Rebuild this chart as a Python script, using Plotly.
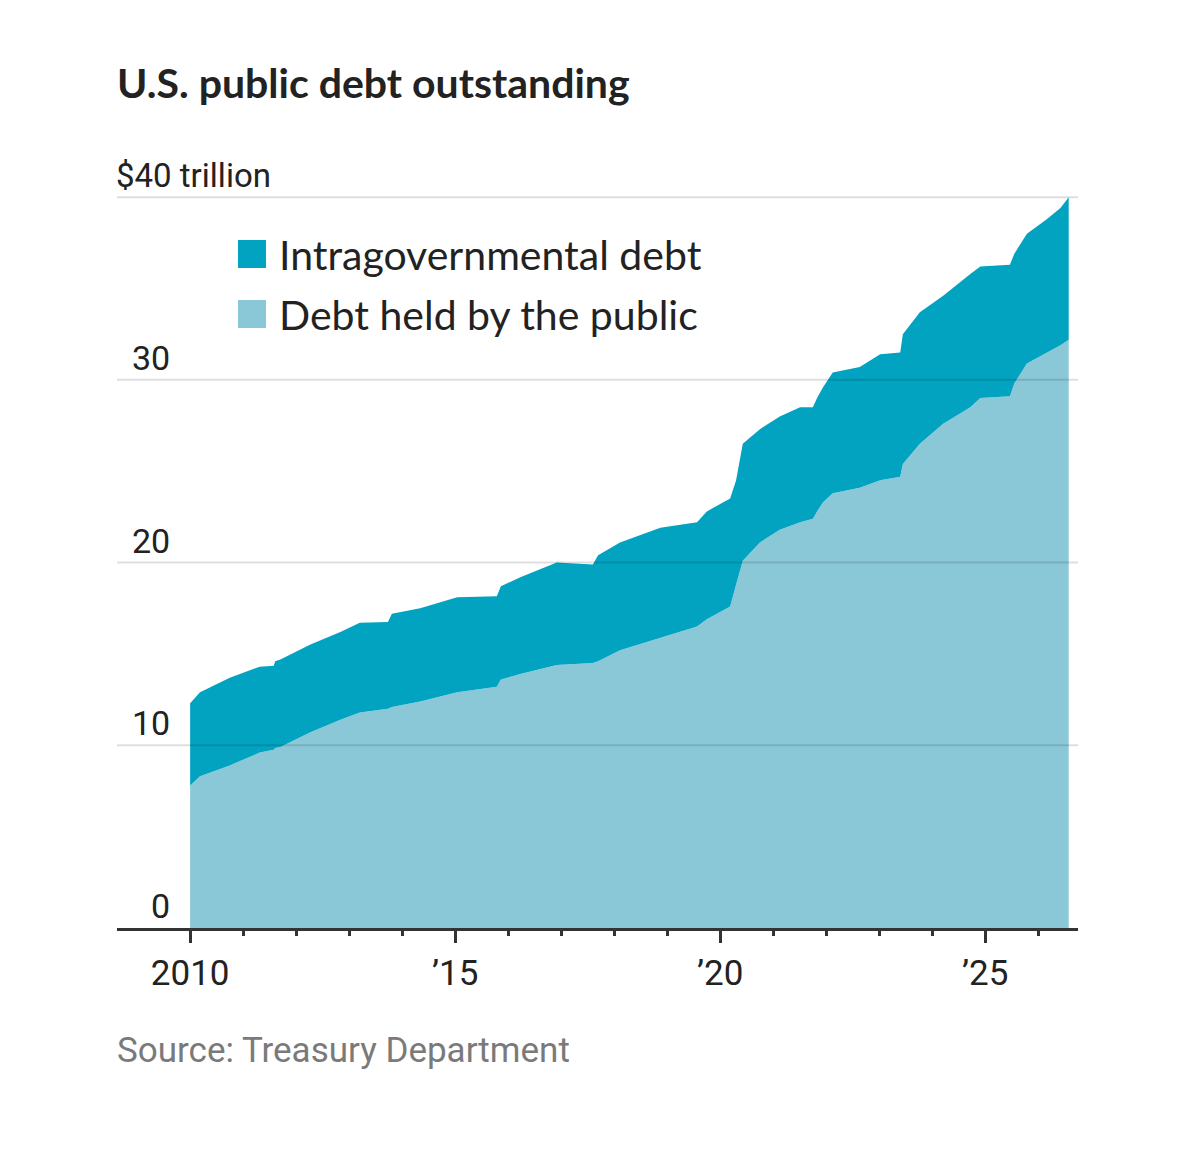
import plotly.graph_objects as go

# data, trillions of dollars
dates = ["2010-01-01", "2010-03-10", "2010-10-01", "2011-04-25", "2011-07-31",
         "2011-08-10", "2011-09-15", "2012-04-05", "2012-11-01", "2013-03-15",
         "2013-09-25", "2013-10-22", "2014-05-05", "2015-01-15", "2015-10-15",
         "2015-11-12", "2016-03-25", "2016-12-01", "2017-08-07", "2017-09-12",
         "2018-02-10", "2018-11-15", "2019-07-26", "2019-10-01", "2020-03-10",
         "2020-04-20", "2020-06-05", "2020-10-01", "2021-02-15", "2021-07-05",
         "2021-10-01", "2021-10-30", "2021-12-10", "2022-02-15", "2022-08-20",
         "2023-01-08", "2023-05-26", "2023-06-13", "2023-10-08", "2024-03-17",
         "2024-09-20", "2024-11-28", "2025-06-20", "2025-07-20", "2025-10-15",
         "2026-03-03", "2026-06-03", "2026-07-30"]

public = [7.8, 8.3, 8.9, 9.6, 9.75, 9.85, 9.9, 10.7, 11.4, 11.8,
          12.0, 12.1, 12.4, 12.9, 13.2, 13.6, 13.9, 14.4, 14.5, 14.6,
          15.2, 15.9, 16.5, 16.9, 17.6, 18.8, 20.1, 21.1, 21.8, 22.2,
          22.4, 22.8, 23.3, 23.8, 24.1, 24.5, 24.7, 25.4, 26.5, 27.6,
          28.5, 29.0, 29.1, 29.8, 30.9, 31.5, 31.9, 32.2]

intragov = [4.5, 4.6, 4.8, 4.7, 4.6, 4.75, 4.8, 4.8, 4.8, 4.9,
            4.75, 5.1, 5.1, 5.2, 4.95, 5.1, 5.3, 5.6, 5.4, 5.8,
            5.9, 6.0, 5.7, 5.9, 5.9, 5.7, 6.4, 6.2, 6.2, 6.3,
            6.1, 6.2, 6.3, 6.6, 6.6, 6.9, 6.8, 7.1, 7.2, 7.0,
            7.3, 7.2, 7.2, 7.1, 7.1, 7.3, 7.5, 7.8]

series_names = ["Intragovernmental debt", "Debt held by the public"]
series_colors = ["#02a3c0", "#8bc8d7"]

y_ticks = [0, 10, 20, 30, 40]
y_labels = ["0", "10", "20", "30", "$40 trillion"]
x_ticks = ["2010-01-01", "2015-01-01", "2020-01-01", "2025-01-01"]
x_labels = ["2010", "’15", "’20", "’25"]
minor_years = [str(y) + "-01-01" for y in range(2011, 2027) if y % 5]

# page has an 8px body margin, so the figure is shrunk by that on each side
OFF = 8
FW, FH = 1200 - 2 * OFF, 1155 - 2 * OFF
L, T = 117 - OFF, 188 - OFF
R, B = FW - (1078 - OFF), FH - (928 - OFF)
plot_h = FH - T - B
plot_w = FW - L - R


def py(p):
    # page pixel row -> paper y
    return (928 - p) / plot_h


def px(p):
    return (p - 117) / plot_w


tickfont = "Roboto, Lato, sans-serif"

fig = go.Figure()
fig.add_trace(go.Scatter(x=dates, y=public, name=series_names[1],
                         stackgroup="debt", mode="lines",
                         line=dict(width=0), fillcolor=series_colors[1],
                         showlegend=False))
fig.add_trace(go.Scatter(x=dates, y=intragov, name=series_names[0],
                         stackgroup="debt", mode="lines",
                         line=dict(width=0), fillcolor=series_colors[0],
                         showlegend=False))

# gridlines sit on top of the areas in the original
for v in y_ticks[1:]:
    fig.add_shape(type="line", xref="paper", yref="y", x0=0, x1=1, y0=v, y1=v,
                  line=dict(color="rgba(0,0,0,0.13)", width=2), layer="above")

for v, lab in zip(y_ticks, y_labels):
    if lab.startswith("$"):
        fig.add_annotation(x=px(114), xref="paper", y=v, yref="y", text=lab,
                           showarrow=False, xanchor="left", yanchor="bottom",
                           font=dict(family=tickfont, size=33, color="#222"))
    else:
        fig.add_annotation(x=px(172), xref="paper", y=v, yref="y", text=lab,
                           showarrow=False, xanchor="right", yanchor="bottom",
                           font=dict(family=tickfont, size=34, color="#222"))

# legend drawn by hand: big square swatches
for i, (name, col) in enumerate(zip(series_names, series_colors)):
    top = 240 + i * 60
    fig.add_shape(type="rect", xref="paper", yref="paper",
                  x0=px(238), x1=px(266), y0=py(top + 28), y1=py(top),
                  fillcolor=col, line=dict(width=0), layer="above")
    fig.add_annotation(x=px(277), xref="paper", y=py(top + 14), yref="paper",
                       text=name, showarrow=False, xanchor="left",
                       yanchor="middle",
                       font=dict(family="Lato", size=41, color="#222"))

fig.add_annotation(x=px(115), xref="paper", y=py(1050), yref="paper",
                   text="Source: Treasury Department", showarrow=False,
                   xanchor="left", yanchor="middle",
                   font=dict(family=tickfont, size=35, color="#7a7a7a"))

fig.update_layout(
    width=FW, height=FH,
    margin=dict(l=L, r=R, t=T, b=B),
    paper_bgcolor="white", plot_bgcolor="white",
    title=dict(text="<b>U.S. public debt outstanding</b>", x=0, xref="paper",
               xanchor="left", y=1 - (84 - OFF) / FH, yref="container",
               yanchor="middle",
               font=dict(family="Lato", size=41, color="#222")),
    xaxis=dict(type="date", range=["2008-08-15", "2026-10-02"],
               showgrid=False, zeroline=False,
               showline=True, linecolor="#333", linewidth=3,
               ticks="outside", ticklen=12, tickwidth=2.5, tickcolor="#333",
               tickvals=x_ticks, ticktext=x_labels,
               minor=dict(ticks="outside", ticklen=5, tickwidth=2.5,
                          tickcolor="#333", tickvals=minor_years,
                          showgrid=False),
               tickfont=dict(family=tickfont, size=35, color="#222"),
               layer="above traces"),
    yaxis=dict(range=[0, 40.5], showgrid=False, zeroline=False,
               showticklabels=False, ticks=""),
    showlegend=False,
)

fig.write_html("out.html")
